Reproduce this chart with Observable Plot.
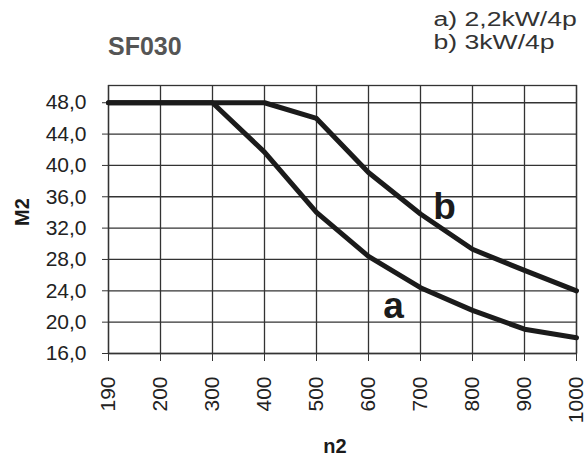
<!DOCTYPE html>
<html>
<head>
<meta charset="utf-8">
<script src="https://cdn.jsdelivr.net/npm/d3@7"></script>
<script src="https://cdn.jsdelivr.net/npm/@observablehq/plot@0.6"></script>
<style>
  html, body { margin: 0; padding: 0; background: #fff; }
  #wrap { position: relative; width: 587px; height: 462px; font-family: "Liberation Sans", Arial, sans-serif; }
  #wrap svg { position: absolute; left: 0; top: 0; }
  .title { position: absolute; left: 108px; top: 34px; font-size: 25px; font-weight: bold; color: #555; line-height: 1; }
  .legend { position: absolute; right: 10px; top: 8px; font-size: 20px; color: #333; line-height: 23px; transform: scaleX(1.33); transform-origin: right top; white-space: nowrap; }
  .ylab { position: absolute; left: 22px; top: 212px; font-size: 20px; font-weight: bold; color: #1b1b1b; transform: translate(-50%, -50%) rotate(-90deg); white-space: nowrap; }
  .xlab { position: absolute; left: 335px; top: 436px; font-size: 20px; font-weight: bold; color: #1b1b1b; transform: translateX(-50%); white-space: nowrap; line-height: 1; }
</style>
</head>
<body>
<div id="wrap"></div>
<script>
// ---- data ----
const n2Ticks = ["190", "200", "300", "400", "500", "600", "700", "800", "900", "1000"];
const m2Ticks = [16, 20, 24, 28, 32, 36, 40, 44, 48];
const seriesA = [48, 48, 48, 41.7, 34.0, 28.4, 24.4, 21.5, 19.1, 18.0]; // a) 2,2kW/4p
const seriesB = [48, 48, 48, 48, 46.0, 39.1, 33.8, 29.3, 26.6, 24.0];   // b) 3kW/4p
const seriesNames = ["a", "b"];
const legendLines = ["a) 2,2kW/4p", "b) 3kW/4p"];
const titleText = "SF030";
const xLabel = "n2";
const yLabel = "M2";
const labelA = {name: "a", n2: "600", M2: 22.0};
const labelB = {name: "b", n2: "700", M2: 34.7};

const rows = [];
n2Ticks.forEach((n, i) => {
  rows.push({series: seriesNames[0], n2: n, M2: seriesA[i]});
  rows.push({series: seriesNames[1], n2: n, M2: seriesB[i]});
});

const fmt = d => d.toFixed(1).replace(".", ",");
const gridColor = "#333";

const chart = Plot.plot({
  width: 587,
  height: 462,
  marginLeft: 108,
  marginRight: 11,
  marginTop: 85,
  marginBottom: 109,
  style: {fontFamily: "'Liberation Sans', Arial, sans-serif", color: "#222", background: "#fff"},
  x: {type: "point", domain: n2Ticks, padding: 0},
  y: {domain: [16, 50.2]},
  marks: [
    Plot.gridX(n2Ticks, {stroke: gridColor, strokeOpacity: 1, strokeWidth: 1.3}),
    Plot.gridY(m2Ticks, {stroke: gridColor, strokeOpacity: 1, strokeWidth: 1.3}),
    Plot.frame({stroke: gridColor, strokeWidth: 1.3}),
    Plot.axisY(m2Ticks, {tickFormat: fmt, tickSize: 6, tickPadding: 16, fontSize: 21, label: null, stroke: gridColor}),
    Plot.axisX(n2Ticks, {tickSize: 8, tickRotate: -90, tickPadding: 15, fontSize: 21, label: null, stroke: gridColor}),
    Plot.line(rows, {x: "n2", y: "M2", z: "series", stroke: "#1b1b1b", strokeWidth: 5, strokeLinejoin: "round", strokeLinecap: "round"}),
    Plot.text([labelA], {x: "n2", y: "M2", text: "name", dx: 25, fontSize: 37, fontWeight: "bold", fill: "#1b1b1b"}),
    Plot.text([labelB], {x: "n2", y: "M2", text: "name", dx: 24, fontSize: 37, fontWeight: "bold", fill: "#1b1b1b"})
  ]
});

const wrap = document.getElementById("wrap");
wrap.appendChild(chart);

const t = document.createElement("div"); t.className = "title"; t.textContent = titleText; wrap.appendChild(t);
const lg = document.createElement("div"); lg.className = "legend";
legendLines.forEach(s => { const d = document.createElement("div"); d.textContent = s; lg.appendChild(d); });
wrap.appendChild(lg);
const yl = document.createElement("div"); yl.className = "ylab"; yl.textContent = yLabel; wrap.appendChild(yl);
const xl = document.createElement("div"); xl.className = "xlab"; xl.textContent = xLabel; wrap.appendChild(xl);
</script>
</body>
</html>
